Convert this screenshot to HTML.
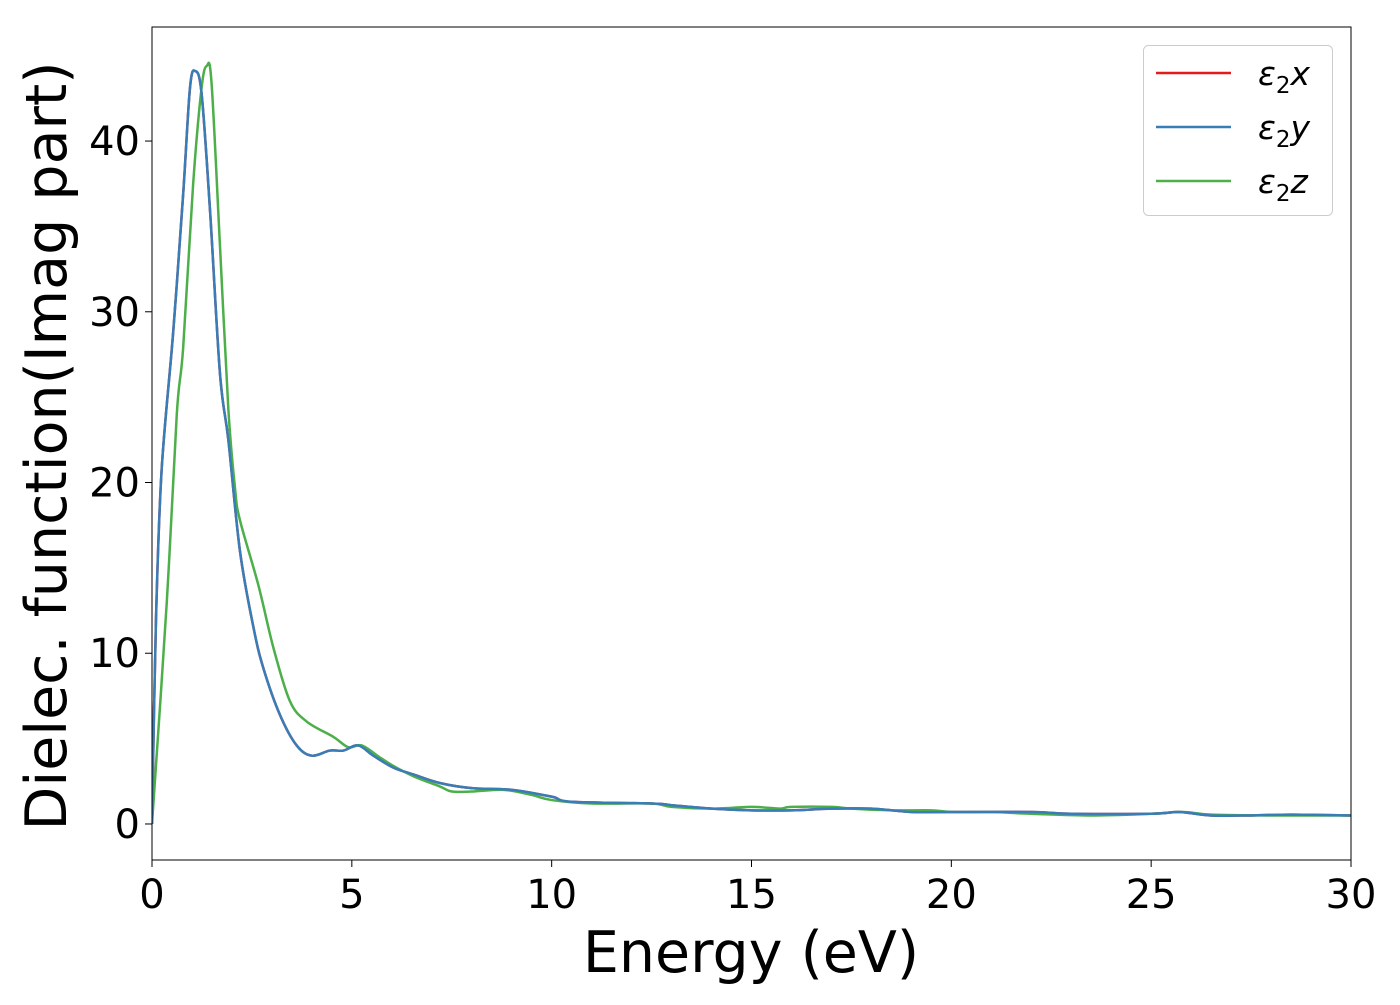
<!DOCTYPE html>
<html><head><meta charset="utf-8"><style>
body{margin:0;background:#fff}
svg text{font-family:"DejaVu Sans","Liberation Sans",sans-serif;fill:#000}
</style></head><body>
<svg width="1400" height="1000" xmlns="http://www.w3.org/2000/svg">
<g id="plot"></g>
</svg>
<script>
const xTicks=[0,5,10,15,20,25,30];
const yTicks=[0,10,20,30,40];
const blueE=[0,0.1,0.24,0.53,0.78,0.95,1.08,1.24,1.45,1.7,1.91,2.2,2.54,2.79,3.2,3.62,4.0,4.45,4.79,5.16,5.54,6.04,6.54,7.2,8,9,10,10.5,12.5,13,14,15,16,17,18,19,20,22,23,25,25.7,26.5,27.5,28.5,30];
const blueV=[0,12,20.7,28.8,36.9,43.1,44.1,42.8,36,26.4,22.5,16,11.5,9.1,6.4,4.6,4.0,4.3,4.3,4.6,4.0,3.3,2.9,2.4,2.1,2.0,1.6,1.3,1.2,1.1,0.9,0.8,0.8,0.9,0.9,0.7,0.7,0.7,0.6,0.6,0.7,0.5,0.5,0.55,0.5];
const redV=blueV.slice();
const greenE=[0,0.37,0.62,0.78,1.03,1.24,1.37,1.49,1.7,1.91,2.08,2.2,2.66,3.04,3.45,3.87,4.54,4.91,5.25,5.7,6.04,6.54,7.2,7.5,8,8.8,9.5,10,11,12.5,13,14,15,15.7,16,17,17.5,18.5,19.5,20,21,22,23.5,25,25.8,26.5,28,30];
const greenV=[0,13,24,27.9,37.5,43.1,44.4,43.4,33.9,24.3,19.6,17.8,14,10.3,7.2,6,5.1,4.5,4.6,3.9,3.4,2.8,2.2,1.9,1.9,2.0,1.7,1.4,1.2,1.2,1.0,0.9,1.0,0.9,1.0,1.0,0.9,0.8,0.8,0.7,0.7,0.6,0.5,0.6,0.7,0.55,0.5,0.5];
const L=152,R=1351,T=27,B=860,xMin=0,xMax=30,yMin=-2.11,yMax=46.68;
const sx=v=>L+(v-xMin)/(xMax-xMin)*(R-L);
const sy=v=>B-(v-yMin)/(yMax-yMin)*(B-T);
const NS='http://www.w3.org/2000/svg';
const g=document.getElementById('plot');
function mk(tag,attrs,parent){const e=document.createElementNS(NS,tag);for(const k in attrs)e.setAttribute(k,attrs[k]);(parent||g).appendChild(e);return e;}
function path(E,V){const p=E.map((e,i)=>[sx(e),sy(V[i])]);let d='M'+p[0][0]+','+p[0][1];
for(let i=0;i<p.length-1;i++){const p0=p[Math.max(0,i-1)],p1=p[i],p2=p[i+1],p3=p[Math.min(p.length-1,i+2)];
const c1=[p1[0]+(p2[0]-p0[0])/6,p1[1]+(p2[1]-p0[1])/6],c2=[p2[0]-(p3[0]-p1[0])/6,p2[1]-(p3[1]-p1[1])/6];
d+=' C'+c1[0]+','+c1[1]+' '+c2[0]+','+c2[1]+' '+p2[0]+','+p2[1];}return d;}
const clip=mk('clipPath',{id:'cp'});mk('rect',{x:L,y:T,width:R-L,height:B-T},clip);
let s=mk('path',{d:path(blueE,redV),fill:'none',stroke:'#e41a1c','stroke-width':2.5,'clip-path':'url(#cp)'});


s=mk('path',{d:path(greenE,greenV),fill:'none',stroke:'#4daf4a','stroke-width':2.5,'clip-path':'url(#cp)'});


s=mk('path',{d:path(blueE,blueV),fill:'none',stroke:'#377eb8','stroke-width':2.5,'clip-path':'url(#cp)'});


const fr=mk('rect',{x:L,y:T,width:R-L,height:B-T,fill:'none',stroke:'#000','stroke-width':1});


xTicks.forEach(t=>{mk('line',{x1:sx(t),x2:sx(t),y1:B,y2:B+7,stroke:'#000'});
const tx=mk('text',{x:sx(t),y:B+48,'text-anchor':'middle','font-size':40});tx.textContent=t;

});
yTicks.forEach(t=>{mk('line',{x1:L-7,x2:L,y1:sy(t),y2:sy(t),stroke:'#000'});
const tx=mk('text',{x:L-12,y:sy(t)+14,'text-anchor':'end','font-size':40});tx.textContent=t;

});
let xl=mk('text',{x:751,y:972,'text-anchor':'middle','font-size':57});xl.textContent='Energy (eV)';


let yl=mk('text',{x:0,y:0,'text-anchor':'middle','font-size':57,transform:'translate(66,446) rotate(-90)'});yl.textContent='Dielec. function(Imag part)';


const lg=mk('g',{});


mk('rect',{x:1143.5,y:45.5,width:189,height:170,rx:5,fill:'#fff','fill-opacity':0.8,stroke:'#ccc'},lg);
[['#e41a1c','x',73],['#377eb8','y',127],['#4daf4a','z',181]].forEach(([c,n,y])=>{
mk('line',{x1:1156,x2:1231,y1:y,y2:y,stroke:c,'stroke-width':2.5},lg);
const t=mk('text',{x:1258,y:y+12,'font-size':33,'font-style':'italic'},lg);


t.innerHTML='ε<tspan font-style="normal" font-size="23" dy="8">2</tspan><tspan dy="-8">'+n+'</tspan>';});
</script>
</body></html>
